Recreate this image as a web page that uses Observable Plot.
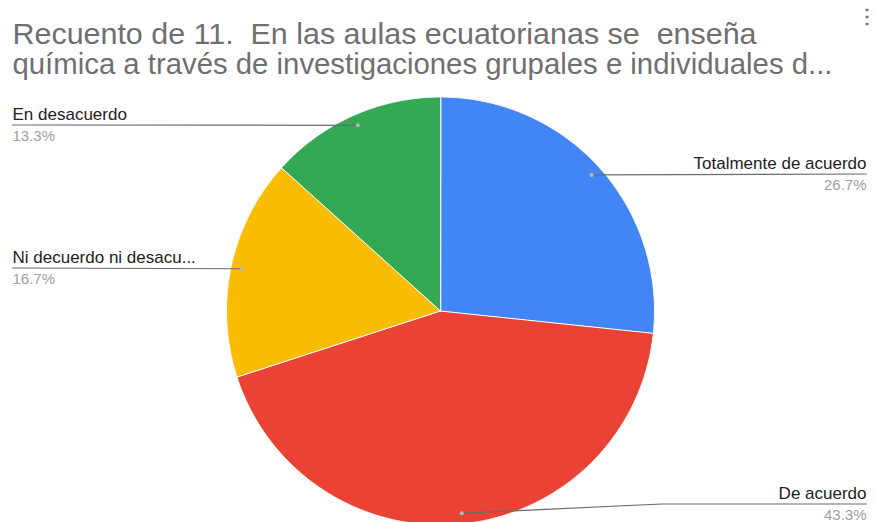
<!DOCTYPE html>
<html>
<head>
<meta charset="utf-8">
<script src="https://cdn.jsdelivr.net/npm/d3@7"></script>
<script src="https://cdn.jsdelivr.net/npm/@observablehq/plot@0.6"></script>
<style>
  html, body { margin: 0; padding: 0; background: #fff; }
  #chart svg { display: block; font-family: "Liberation Sans", Arial, sans-serif; }
</style>
</head>
<body>
<div id="chart"></div>
<script>
// ---- data ----
const titleLines = [
  "Recuento de 11.  En las aulas ecuatorianas se  enseña",
  "química a través de investigaciones grupales e individuales d..."
];
const categories = ["Totalmente de acuerdo", "De acuerdo", "Ni decuerdo ni desacu...", "En desacuerdo"];
const counts = [8, 13, 5, 4];
const colors = ["#4285F4", "#EA4335", "#FBBC04", "#34A853"];

// ---- layout (not data) ----
const W = 877, H = 522;
const cx = 440, cy = 310.5, R = 214;
const labelSide = ["right", "right", "left", "left"];
const labelBaseline = [168, 498, 262, 119];
const leftX = 12, rightX = 866;
const titleWidths = [744, 820];

const total = d3.sum(counts);
const rows = categories.map((c, i) => ({name: c, count: counts[i], pct: (counts[i] / total * 100).toFixed(1) + "%"}));
const arcs = d3.pie().sort(null).value(d => d.count)(rows);

// slice polygons from pie angles
const slicePts = [];
arcs.forEach(a => {
  slicePts.push({name: a.data.name, x: cx, y: cy});
  const n = Math.max(2, Math.ceil((a.endAngle - a.startAngle) / 0.005));
  for (let k = 0; k <= n; k++) {
    const t = a.startAngle + (a.endAngle - a.startAngle) * k / n;
    slicePts.push({name: a.data.name, x: cx + R * Math.sin(t), y: cy - R * Math.cos(t)});
  }
});

// label anchor dots
const dots = arcs.map(a => {
  const m = (a.startAngle + a.endAngle) / 2;
  return {name: a.data.name, x: cx + 0.95 * R * Math.sin(m), y: cy - 0.95 * R * Math.cos(m)};
});

const labels = rows.map((r, i) => ({
  name: r.name, pct: r.pct, side: labelSide[i],
  x: labelSide[i] === "left" ? leftX : rightX,
  y: labelBaseline[i], lineY: labelBaseline[i] + 5.5
}));

// leader lines
const leaders = [];
labels.forEach((l, i) => {
  const d = dots[i];
  leaders.push({name: l.name, x: d.x, y: d.y});
  if (Math.abs(d.y - l.lineY) > 4) {
    leaders.push({name: l.name, x: d.x + (l.side === "right" ? 200 : -200), y: l.lineY});
  }
  leaders.push({name: l.name, x: l.x, y: l.lineY});
});

const left = labels.filter(l => l.side === "left");
const right = labels.filter(l => l.side === "right");

const chart = Plot.plot({
  width: W, height: H, margin: 0,
  x: {domain: [0, W], range: [0, W], axis: null},
  y: {domain: [0, H], range: [0, H], axis: null},
  color: {domain: categories, range: colors},
  style: {fontFamily: "'Liberation Sans', Arial, sans-serif", background: "#fff"},
  marks: [
    Plot.line(slicePts, {x: "x", y: "y", z: "name", fill: "name", stroke: "#fff", strokeWidth: 1, curve: "linear-closed"}),
    Plot.line(leaders, {x: "x", y: "y", z: "name", stroke: "#6b6b6b", strokeWidth: 1.2}),
    Plot.dot(dots, {x: "x", y: "y", r: 2, fill: "#b8b8b8", stroke: null}),
    Plot.text(left, {x: "x", y: "y", text: "name", textAnchor: "start", lineAnchor: "bottom", fontSize: 17, fill: "#222"}),
    Plot.text(right, {x: "x", y: "y", text: "name", textAnchor: "end", lineAnchor: "bottom", fontSize: 17, fill: "#222"}),
    Plot.text(left, {x: "x", y: "y", dy: 21, text: "pct", textAnchor: "start", lineAnchor: "bottom", fontSize: 15, fill: "#a0a0a0"}),
    Plot.text(right, {x: "x", y: "y", dy: 21, text: "pct", textAnchor: "end", lineAnchor: "bottom", fontSize: 15, fill: "#a0a0a0"}),
    Plot.text([titleLines[0]], {className: "title1", frameAnchor: "top-left", dx: 12, dy: 43, text: d => d, textAnchor: "start", lineAnchor: "bottom", fontSize: 30, fill: "#6f6f6f"}),
    Plot.text([titleLines[1]], {className: "title2", frameAnchor: "top-left", dx: 12, dy: 73, text: d => d, textAnchor: "start", lineAnchor: "bottom", fontSize: 30, fill: "#6f6f6f"}),
    Plot.text(["⋮"], {frameAnchor: "top-right", dx: -1, dy: 8, text: d => d, textAnchor: "end", lineAnchor: "top", fontSize: 20, fontWeight: "bold", fill: "#757575"})
  ]
});
const svg = d3.select(chart);
svg.selectAll("text").style("white-space", "pre");
svg.selectAll(".title1 text").attr("textLength", titleWidths[0]).attr("lengthAdjust", "spacingAndGlyphs");
svg.selectAll(".title2 text").attr("textLength", titleWidths[1]).attr("lengthAdjust", "spacingAndGlyphs");
document.getElementById("chart").appendChild(chart);
</script>
</body>
</html>
